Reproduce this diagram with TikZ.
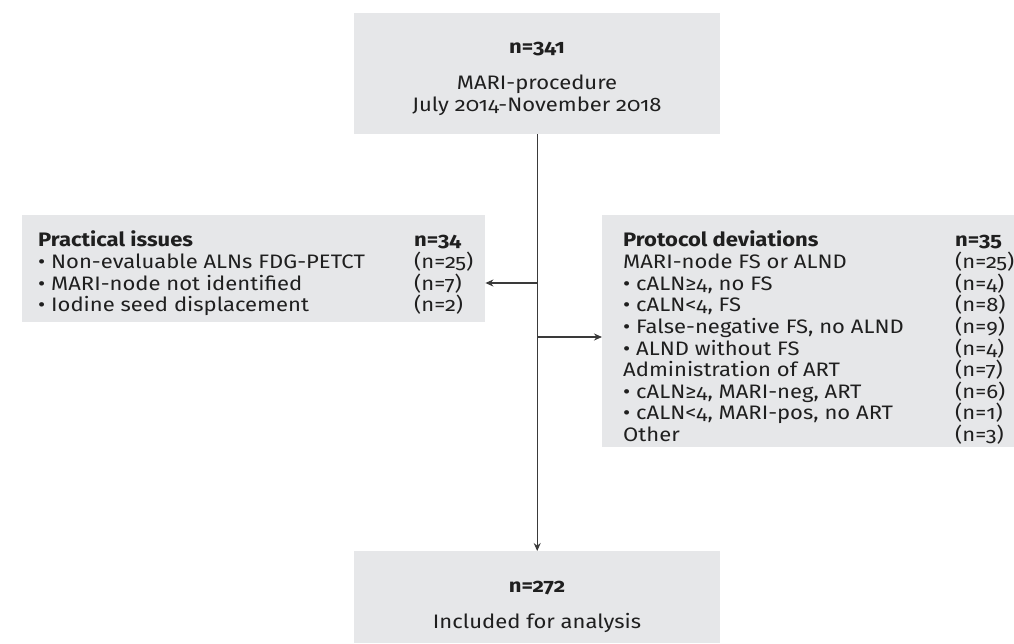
\documentclass[tikz,border=0pt]{standalone}
\usepackage{fontspec}
\setmainfont{Fira Sans}[Numbers=OldStyle, FakeStretch=1.13]
\usetikzlibrary{arrows.meta}
\definecolor{boxgray}{HTML}{E6E7E9}
\definecolor{linegray}{HTML}{3A3A3A}
\newcommand{\fsz}{\fontsize{19.5}{22}\selectfont}
\begin{document}
\begin{tikzpicture}[x=1pt,y=-1pt,
  box/.style={fill=boxgray, draw=none, inner sep=0pt, anchor=north west},
  txt/.style={inner sep=0pt, anchor=base west, font=\fsz, text=black!88},
  btxt/.style={txt, font=\fsz\bfseries},
  ctxt/.style={inner sep=0pt, anchor=base, font=\fsz, text=black!88},
  cbtxt/.style={ctxt, font=\fsz\bfseries},
  conn/.style={draw=linegray, line width=1.2pt},
  arr/.style={conn, -{Stealth[length=8pt,width=7pt]}}]
\useasboundingbox (0,0) rectangle (1014,643);
% boxes
\node[box, minimum width=366pt, minimum height=121pt] (top) at (354,13) {};
\node[box, minimum width=463pt, minimum height=107pt] (left) at (22,215) {};
\node[box, minimum width=412pt, minimum height=232pt] (right) at (602,215) {};
\node[box, minimum width=366pt, minimum height=92pt] (bot) at (354,551) {};
% top text
\node[cbtxt] (t1) at (537,53) {n=341};
\node[ctxt] (t2) at (537,89) {MARI-procedure};
\node[ctxt] (t3) at (537,111) {July 2014-November 2018};
% bottom text
\node[cbtxt] (b1) at (537,592) {n=272};
\node[ctxt] (b2) at (537,628) {Included for analysis};
% left text
\node[btxt] (l0) at (38,246) {Practical issues};
\node[btxt] (l0n) at (414,246) {n=34};
\node[txt] (l1) at (38,268) {• Non-evaluable ALNs FDG-PETCT};
\node[txt] (l1n) at (414,268) {(n=25)};
\node[txt] (l2) at (38,290) {• MARI-node not identified};
\node[txt] (l2n) at (414,290) {(n=7)};
\node[txt] (l3) at (38,311) {• Iodine seed displacement};
\node[txt] (l3n) at (414,311) {(n=2)};
% right text
\node[btxt] (r0) at (623,246) {Protocol deviations};
\node[btxt] (r0n) at (955,246) {n=35};
\node[txt] (r1) at (623,268) {MARI-node FS or ALND};
\node[txt] (r1n) at (955,268) {(n=25)};
\node[txt] (r2) at (623,290) {• cALN≥4, no FS};
\node[txt] (r2n) at (955,290) {(n=4)};
\node[txt] (r3) at (623,311) {• cALN<4, FS};
\node[txt] (r3n) at (955,311) {(n=8)};
\node[txt] (r4) at (623,333) {• False-negative FS, no ALND};
\node[txt] (r4n) at (955,333) {(n=9)};
\node[txt] (r5) at (623,355) {• ALND without FS};
\node[txt] (r5n) at (955,355) {(n=4)};
\node[txt] (r6) at (623,376) {Administration of ART};
\node[txt] (r6n) at (955,376) {(n=7)};
\node[txt] (r7) at (623,398) {• cALN≥4, MARI-neg, ART};
\node[txt] (r7n) at (955,398) {(n=6)};
\node[txt] (r8) at (623,419) {• cALN<4, MARI-pos, no ART};
\node[txt] (r8n) at (955,419) {(n=1)};
\node[txt] (r9) at (623,441) {Other};
\node[txt] (r9n) at (955,441) {(n=3)};
% connectors
\coordinate (jl) at (top.south |- 0,283);
\coordinate (jr) at (top.south |- 0,337);
\draw[arr] (top.south) -- (bot.north);
\draw[arr] (jl) -- (jl -| left.east);
\draw[arr] (jr) -- (jr -| right.west);
\end{tikzpicture}
\end{document}
